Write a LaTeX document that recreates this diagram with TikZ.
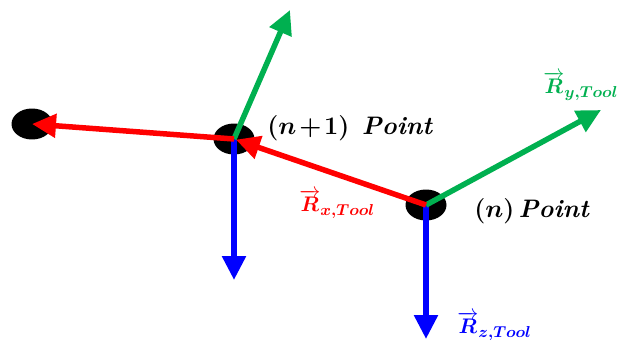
\documentclass[tikz,border=0pt]{standalone}
\usepackage{amsmath}
\usepackage{bm}
\usepackage{xcolor}
\usetikzlibrary{arrows.meta, shapes.geometric}

\definecolor{axisred}{RGB}{255,0,0}
\definecolor{axisgreen}{RGB}{0,176,80}
\definecolor{axisblue}{RGB}{0,0,255}

\tikzset{
  pt/.style={shape=ellipse, fill=black, minimum width=0.82cm, minimum height=0.62cm, inner sep=0pt},
  axis/.style={line width=0.11cm, -{Triangle[length=0.48cm,width=0.46cm]}},
  lbl/.style={font=\Large, inner sep=0pt},
  vlbl/.style={font=\fontsize{13}{15}\selectfont, inner sep=0pt}
}

\begin{document}
\begin{tikzpicture}[x=0.02cm, y=-0.02cm]
    \useasboundingbox (0, 0) rectangle (629, 341);
    % Points:
    \node[pt](P0) at (32, 124){};
    \node[pt](P1) at (234, 139){};
    \node[pt](P2) at (426, 205){};
    % Free ends of the axes:
    \coordinate (Y1) at (290, 10);
    \coordinate (Z1) at (234, 280);
    \coordinate (Y2) at (601, 110);
    \coordinate (Z2) at (426, 339);
    % Axes:
    \draw[axis, axisblue] (P1.center) -- (Z1);
    \draw[axis, axisgreen] (P1.center) -- (Y1);
    \draw[axis, axisred] (P1.center) -- (P0.center);
    \draw[axis, axisblue] (P2.center) -- (Z2);
    \draw[axis, axisgreen] (P2.center) -- (Y2);
    \draw[axis, axisred, shorten >=0.04cm] (P2.center) -- (P1.center);
    % Labels:
    \node[lbl, anchor=west](L1) at (267, 128){$\bm{(n\mkern-2mu+\mkern-2mu1)}$\ \,\textbf{\textit{Point}}};
    \node[lbl, anchor=west](L2) at (474, 211){$\bm{(n)}$\,\textbf{\textit{Point}}};
    \node[vlbl, anchor=west, text=axisred](Rx) at (299, 204){$\overrightarrow{\bm{R}}_{\bm{x,Tool}}$};
    \node[vlbl, anchor=west, text=axisgreen](Ry) at (543, 86){$\overrightarrow{\bm{R}}_{\bm{y,Tool}}$};
    \node[vlbl, anchor=west, text=axisblue](Rz) at (457, 326){$\overrightarrow{\bm{R}}_{\bm{z,Tool}}$};
\end{tikzpicture}
\end{document}
